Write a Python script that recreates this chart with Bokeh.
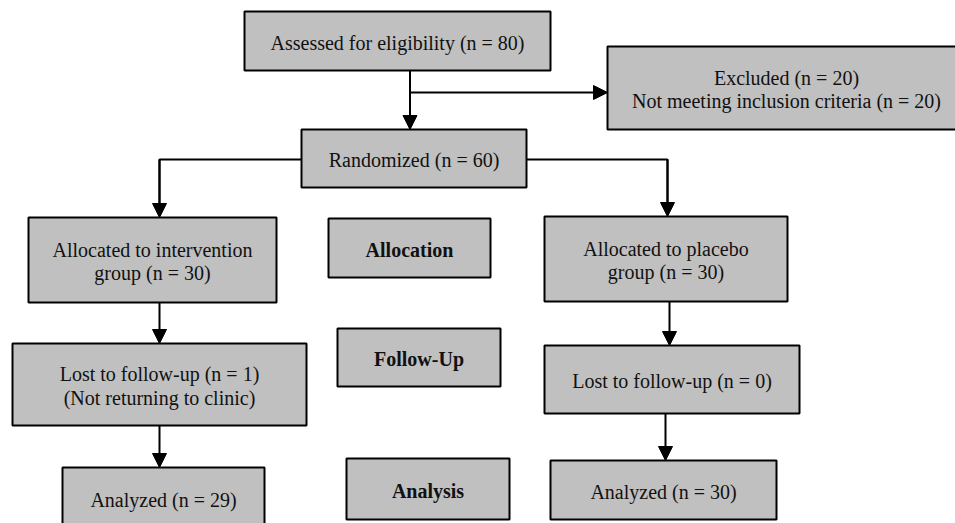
from bokeh.plotting import figure
from bokeh.models import Range1d, ColumnDataSource, Arrow, NormalHead
from bokeh.core.properties import value
from bokeh.embed import file_html
from bokeh.resources import INLINE

# ---------------- data ----------------
assessed_n = 80
excluded_n = 20
not_meeting_n = 20
randomized_n = 60
group_names = ["intervention", "placebo"]
allocated_n = [30, 30]
lost_n = [1, 0]
lost_reason = ["Not returning to clinic", ""]
analyzed_n = [29, 30]
stage_labels = ["Allocation", "Follow-Up", "Analysis"]

# ---------------- layout (page pixel units) ----------------
W, H = 955, 523
OFF = 0
p = figure(width=W, height=H, output_backend="svg", toolbar_location=None,
           x_range=Range1d(OFF, OFF + W), y_range=Range1d(OFF + H, OFF),
           min_border=0, background_fill_color="white", border_fill_color="white")
p.axis.visible = False
p.grid.visible = False
p.outline_line_color = None

FONT = value("Liberation Serif")
FS = value("20px")
LH = 23.5

# boxes: (left, right, top, bottom, lines, bold)
boxes = [
    (244, 550, 11, 70, [f"Assessed for eligibility (n = {assessed_n})"], False),
    (607, 966, 46, 129, [f"Excluded (n = {excluded_n})",
                         f"Not meeting inclusion criteria (n = {not_meeting_n})"], False),
    (301, 526, 129, 187, [f"Randomized (n = {randomized_n})"], False),
    (28, 276, 217, 302, [f"Allocated to {group_names[0]}", f"group (n = {allocated_n[0]})"], False),
    (544, 787, 216, 301, [f"Allocated to {group_names[1]}", f"group (n = {allocated_n[1]})"], False),
    (12, 306, 343, 425, [f"Lost to follow-up (n = {lost_n[0]})", f"({lost_reason[0]})"], False),
    (544, 799, 345, 413, [f"Lost to follow-up (n = {lost_n[1]})"], False),
    (62, 264, 467, 540, [f"Analyzed (n = {analyzed_n[0]})"], False),
    (550, 776, 460, 519, [f"Analyzed (n = {analyzed_n[1]})"], False),
    (328, 490, 218, 277, [stage_labels[0]], True),
    (337, 500, 328, 386, [stage_labels[1]], True),
    (346, 509, 458, 519, [stage_labels[2]], True),
]
# text vertical centre overrides for boxes whose text sits off-centre
text_cy = {7: 499}

bsrc = ColumnDataSource(dict(
    left=[b[0] for b in boxes], right=[b[1] for b in boxes],
    top=[b[2] for b in boxes], bottom=[b[3] for b in boxes]))
p.quad(left="left", right="right", top="top", bottom="bottom", source=bsrc,
       fill_color="#c0c0c0", line_color="black", line_width=2)

tx, ty, tt, tb = [], [], [], []
for i, (l, r, t, b, lines, bold) in enumerate(boxes):
    cx = (l + r) / 2.0
    if i == 1:
        cx = 786
    cy = text_cy.get(i, (t + b) / 2.0 + 1.5)
    n = len(lines)
    for k, s in enumerate(lines):
        tx.append(cx)
        ty.append(cy + (k - (n - 1) / 2.0) * LH)
        tt.append(s)
        tb.append(bold)

norm = ColumnDataSource(dict(x=[x for x, b in zip(tx, tb) if not b],
                             y=[y for y, b in zip(ty, tb) if not b],
                             text=[s for s, b in zip(tt, tb) if not b]))
boldsrc = ColumnDataSource(dict(x=[x for x, b in zip(tx, tb) if b],
                                y=[y for y, b in zip(ty, tb) if b],
                                text=[s for s, b in zip(tt, tb) if b]))
p.text(x="x", y="y", text="text", source=norm, text_font=FONT, text_font_size=FS,
       text_align="center", text_baseline="middle", text_color="#111111")
p.text(x="x", y="y", text="text", source=boldsrc, text_font=FONT, text_font_size=FS,
       text_font_style="bold", text_align="center", text_baseline="middle",
       text_color="#111111")

# connector lines without heads
p.multi_line(xs=[[301, 159, 159], [526, 667, 667]],
             ys=[[159, 159, 205], [159, 159, 205]],
             line_color="black", line_width=2)

# arrows (start -> end)
arrows = [
    (409.5, 70, 409.5, 129),
    (409.5, 92, 607, 92),
    (159, 159, 159, 217),
    (667, 159, 667, 216),
    (159, 302, 159, 343),
    (159, 425, 159, 467),
    (669, 301, 669, 345),
    (665, 413, 665, 460),
]
for xs, ys, xe, ye in arrows:
    p.add_layout(Arrow(x_start=xs, y_start=ys, x_end=xe, y_end=ye,
                       line_color="black", line_width=2,
                       end=NormalHead(size=14, fill_color="black", line_color="black",
                                      line_width=1)))

open("out.html", "w").write(file_html(p, INLINE))
